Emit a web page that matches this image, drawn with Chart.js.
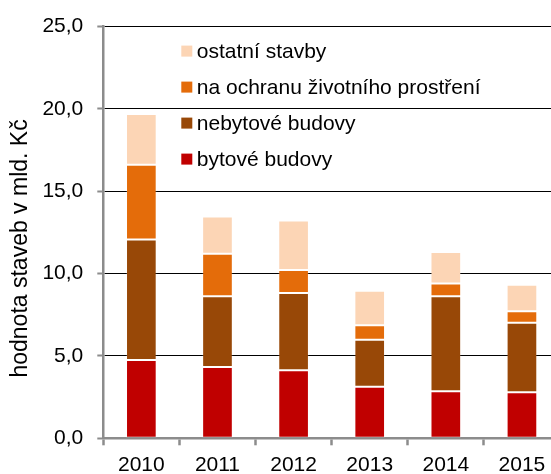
<!DOCTYPE html>
<html>
<head>
<meta charset="utf-8">
<script src="https://cdn.jsdelivr.net/npm/chart.js@4"></script>
<style>
  html, body { margin: 0; padding: 0; background: #fff; overflow: hidden; width: 551px; height: 474px; }
  #wrap { width: 610px; height: 474px; position: relative; }
</style>
</head>
<body>
<div id="wrap"><canvas id="c" width="610" height="474"></canvas></div>
<script>
const categories = ['2010', '2011', '2012', '2013', '2014', '2015'];
const bytoveBudovy = [4.75, 4.33, 4.13, 3.13, 2.86, 2.80];
const nebytoveBudovy = [7.32, 4.30, 4.69, 2.86, 5.77, 4.21];
const ochranaProstredi = [4.54, 2.57, 1.40, 0.88, 0.77, 0.71];
const ostatniStavby = [3.09, 2.27, 3.01, 2.09, 1.92, 1.60];
const seriesNames = ['bytové budovy', 'nebytové budovy', 'na ochranu životního prostření', 'ostatní stavby'];
const yTicks = [0, 5, 10, 15, 20, 25];
const yTitle = 'hodnota staveb v mld. Kč';

const colors = ['#C00000', '#984807', '#E46C0A', '#FCD5B5'];
const FONT = 'Liberation Sans, Arial, sans-serif';
const FS = 21;
const GRAY = '#8c8c8c';

const legendPlugin = {
  id: 'insideLegend',
  afterDatasetsDraw(chart) {
    const ctx = chart.ctx;
    const ca = chart.chartArea;
    const ds = chart.data.datasets;
    ctx.save();
    ctx.font = FS + 'px ' + FONT;
    ctx.textBaseline = 'middle';
    ctx.textAlign = 'left';
    const x0 = ca.left + 78;
    const y0 = ca.top + 24.5;
    const step = 36;
    for (let i = ds.length - 1, k = 0; i >= 0; i--, k++) {
      const cy = y0 + k * step;
      ctx.fillStyle = ds[i].backgroundColor;
      ctx.fillRect(x0, cy - 5.5, 11, 11);
      ctx.fillStyle = '#000';
      ctx.fillText(ds[i].label, x0 + 15.5, cy + 1);
    }
    ctx.restore();
  }
};

const yTitlePlugin = {
  id: 'yTitle',
  afterDraw(chart) {
    const ctx = chart.ctx;
    const ca = chart.chartArea;
    ctx.save();
    ctx.translate(27, (ca.top + ca.bottom) / 2 + 16);
    ctx.rotate(-Math.PI / 2);
    ctx.font = '23px ' + FONT;
    ctx.fillStyle = '#000';
    ctx.textAlign = 'center';
    ctx.textBaseline = 'alphabetic';
    ctx.fillText(yTitle, 0, 0);
    ctx.restore();
  }
};

const data = {
  labels: categories,
  datasets: [bytoveBudovy, nebytoveBudovy, ochranaProstredi, ostatniStavby].map((vals, i) => ({
    label: seriesNames[i],
    data: vals,
    backgroundColor: colors[i],
    borderColor: 'rgba(255,255,255,0.15)',
    borderWidth: 1,
    borderSkipped: false,
    categoryPercentage: 1.0,
    barPercentage: 0.403
  }))
};

new Chart(document.getElementById('c'), {
  type: 'bar',
  data,
  options: {
    responsive: false,
    animation: false,
    devicePixelRatio: 1,
    layout: { padding: { left: 0, top: 22.7, right: 50, bottom: 0 } },
    plugins: { legend: { display: false }, tooltip: { enabled: false } },
    scales: {
      x: {
        stacked: true,
        grid: {
          offset: true,
          drawOnChartArea: false,
          drawTicks: true,
          tickLength: 7,
          tickColor: GRAY,
          tickWidth: 2.5
        },
        border: { display: true, color: GRAY, width: 2.5 },
        ticks: {
          color: '#000',
          font: { family: FONT, size: FS },
          padding: 7,
          maxRotation: 0,
          autoSkip: false
        },
        afterFit(scale) { scale.height = 474 - 438.3; }
      },
      y: {
        stacked: true,
        min: 0,
        max: 25,
        afterBuildTicks(scale) { scale.ticks = yTicks.map(v => ({ value: v })); },
        grid: {
          color: (c) => (c.tick && c.tick.value === 0) ? 'rgba(0,0,0,0)' : '#000',
          lineWidth: 1,
          borderDash: [3, 2],
          drawTicks: true,
          tickLength: 6,
          tickColor: GRAY,
          tickWidth: 2,
          tickBorderDash: []
        },
        border: { display: true, color: GRAY, width: 2.5 },
        ticks: {
          color: '#000',
          font: { family: FONT, size: FS },
          padding: 14,
          callback: (v) => Number(v).toFixed(1).replace('.', ',')
        },
        title: { display: false },
        afterFit(scale) { scale.width = 103.3; }
      }
    }
  },
  plugins: [legendPlugin, yTitlePlugin]
});
</script>
</body>
</html>
